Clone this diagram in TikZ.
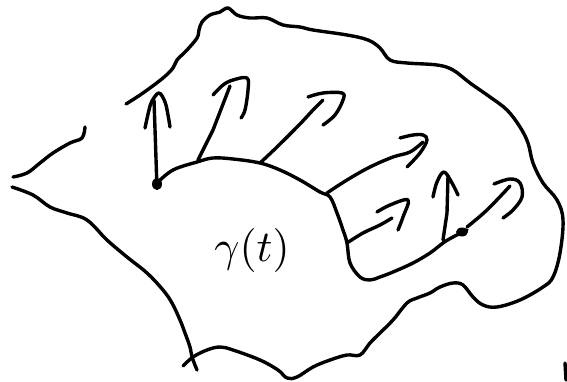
\documentclass[tikz,border=0pt]{standalone}
\begin{document}
\begin{tikzpicture}[x=1pt,y=-1pt,
  pen/.style={line width=3.4pt,line cap=round,line join=round,black}]
\useasboundingbox (0,0) rectangle (567,382);
% outer boundary
\draw[pen] plot[smooth,tension=0.6] coordinates {(126,104) (143,93) (163,78) (173,68) (177,60) (187,50) (197,38) (199,30) (202,22) (210,15) (220,12) (228,8) (237,15) (250,18) (267,18) (283,25) (300,27) (313,30) (347,35) (368,40) (380,48) (390,60) (407,63) (437,65) (453,70) (470,83) (490,97) (507,110) (520,127) (528,143) (533,163) (543,183) (557,200) (563,220) (560,253) (553,277) (543,287) (520,300) (497,307) (483,305) (473,297) (463,285) (453,283) (440,287) (430,293) (417,298) (407,303) (393,320) (380,333) (370,343) (360,355) (347,355) (330,360) (313,367) (297,377) (287,378) (278,370) (260,360) (233,350) (220,347) (207,350) (193,357) (183,366)};
\draw[pen] plot[smooth,tension=0.6] coordinates {(197,370) (192,357) (190,347) (185,333) (180,320) (172,303) (163,290) (147,273) (127,257) (107,240) (87,220) (67,213) (50,207) (33,195) (12,187)};
\draw[pen] plot[smooth,tension=0.6] coordinates {(85,127) (82,138) (70,143) (53,153) (40,163) (27,173) (13,177)};
\draw[pen] (565,363) -- (566,380);
% inner curve
\draw[pen] plot[smooth,tension=0.6] coordinates {(157,183) (173,170) (197,162) (213,158) (233,159) (260,163) (280,170) (300,180) (320,192) (330,197) (337,213) (343,230) (347,243) (350,263) (360,277) (370,280) (380,277) (393,272) (413,263) (430,253) (443,243) (453,237) (467,230)};
\fill (157,184) ellipse (5 and 6);
\fill (462,232) ellipse (6 and 4.5);
% arrow 1 (vertical left)
\draw[pen] (157,188) -- (154,100);
\draw[pen] plot[smooth,tension=0.6] coordinates {(145,128) (149,110) (152,101) (159,93) (165,102) (168,115) (170,127)};
% arrow 2
\draw[pen] (198,160) -- (213,130) -- (230,86);
\draw[pen] plot[smooth,tension=0.6] coordinates {(213,95) (223,85) (233,80) (247,78) (248,90) (245,110) (241,118)};
% arrow 3
\draw[pen] plot[smooth,tension=0.6] coordinates {(260,163) (277,147) (300,124) (313,110) (323,100)};
\draw[pen] plot[smooth,tension=0.6] coordinates {(308,97) (323,93) (342,93) (343,100) (335,115) (323,125)};
% arrow 4
\draw[pen] plot[smooth,tension=0.6] coordinates {(327,193) (347,180) (370,167) (393,157) (410,152) (423,142)};
\draw[pen] plot[smooth,tension=0.6] coordinates {(400,138) (413,135) (423,135) (427,140) (420,153) (407,167)};
% arrow 5
\draw[pen] plot[smooth,tension=0.6] coordinates {(347,243) (363,233) (380,225) (392,218)};
\draw[pen] plot[smooth,tension=0.6] coordinates {(377,212) (390,205) (408,200) (403,217) (398,230)};
% arrow 6 (vertical right)
\draw[pen] (443,240) -- (447,213) -- (448,176);
\draw[pen] plot[smooth,tension=0.6] coordinates {(433,197) (437,182) (444,172) (452,183) (458,195)};
% arrow 7
\draw[pen] plot[smooth,tension=0.6] coordinates {(467,227) (487,210) (510,186)};
\draw[pen] plot[smooth,tension=0.6] coordinates {(494,184) (510,179) (520,183) (522,197) (513,210) (503,218)};
% label
\node[scale=4.4] (gam) at (252,250) {$\gamma(t)$};
\end{tikzpicture}
\end{document}
